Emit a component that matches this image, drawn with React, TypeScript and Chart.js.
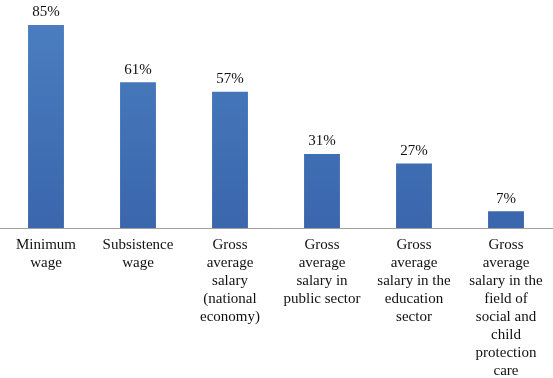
import React, { useEffect, useRef } from "react";
import { Chart, registerables } from "chart.js";

Chart.register(...registerables);

const categories: string[][] = [
  ["Minimum", "wage"],
  ["Subsistence", "wage"],
  ["Gross", "average", "salary", "(national", "economy)"],
  ["Gross", "average", "salary in", "public sector"],
  ["Gross", "average", "salary in the", "education", "sector"],
  ["Gross", "average", "salary in the", "field of", "social and", "child", "protection", "care"],
];
const values: number[] = [85, 61, 57, 31, 27, 7];
const valueLabels: string[] = ["85%", "61%", "57%", "31%", "27%", "7%"];

const FONT = "'Liberation Serif', 'Times New Roman', serif";

const labelPlugin = {
  id: "valueLabels",
  afterDatasetsDraw(chart: any) {
    const ctx = chart.ctx;
    const meta = chart.getDatasetMeta(0);
    ctx.save();
    ctx.font = `15px ${FONT}`;
    ctx.fillStyle = "#111";
    ctx.textAlign = "center";
    ctx.textBaseline = "bottom";
    meta.data.forEach((bar: any, i: number) => {
      ctx.fillText(valueLabels[i], bar.x, bar.y - 5);
    });
    ctx.restore();
  },
};

export default function App() {
  const ref = useRef<HTMLCanvasElement>(null);
  useEffect(() => {
    document.body.style.margin = "0";
    const canvas = ref.current!;
    const chart = new Chart(canvas, {
      type: "bar",
      data: {
        labels: categories,
        datasets: [
          {
            data: values,
            backgroundColor: (c: any) => {
              const area = c.chart.chartArea;
              if (!area) return "#4676b8";
              const g = c.chart.ctx.createLinearGradient(0, area.top, 0, area.bottom);
              g.addColorStop(0, "#4b7ec1");
              g.addColorStop(1, "#3a66ac");
              return g;
            },
            borderWidth: 0,
            categoryPercentage: 1,
            barPercentage: 0.39,
          },
        ],
      },
      options: {
        animation: false,
        responsive: false,
        maintainAspectRatio: false,
        layout: { padding: { left: 0, right: 1, top: 13, bottom: -2 } },
        plugins: { legend: { display: false }, tooltip: { enabled: false } },
        scales: {
          x: {
            grid: { display: false },
            border: { display: true, color: "#a0a0a0", width: 1 },
            ticks: {
              color: "#111",
              font: { family: FONT, size: 15, lineHeight: 1.2 },
              padding: 0,
              maxRotation: 0,
              autoSkip: false,
            },
          },
          y: {
            display: false,
            min: 0,
            max: 90,
          },
        },
      },
      plugins: [labelPlugin],
    });
    return () => chart.destroy();
  }, []);
  return (
    <div style={{ width: 553, height: 378 }}>
      <canvas ref={ref} width={553} height={378} style={{ display: "block" }} />
    </div>
  );
}
